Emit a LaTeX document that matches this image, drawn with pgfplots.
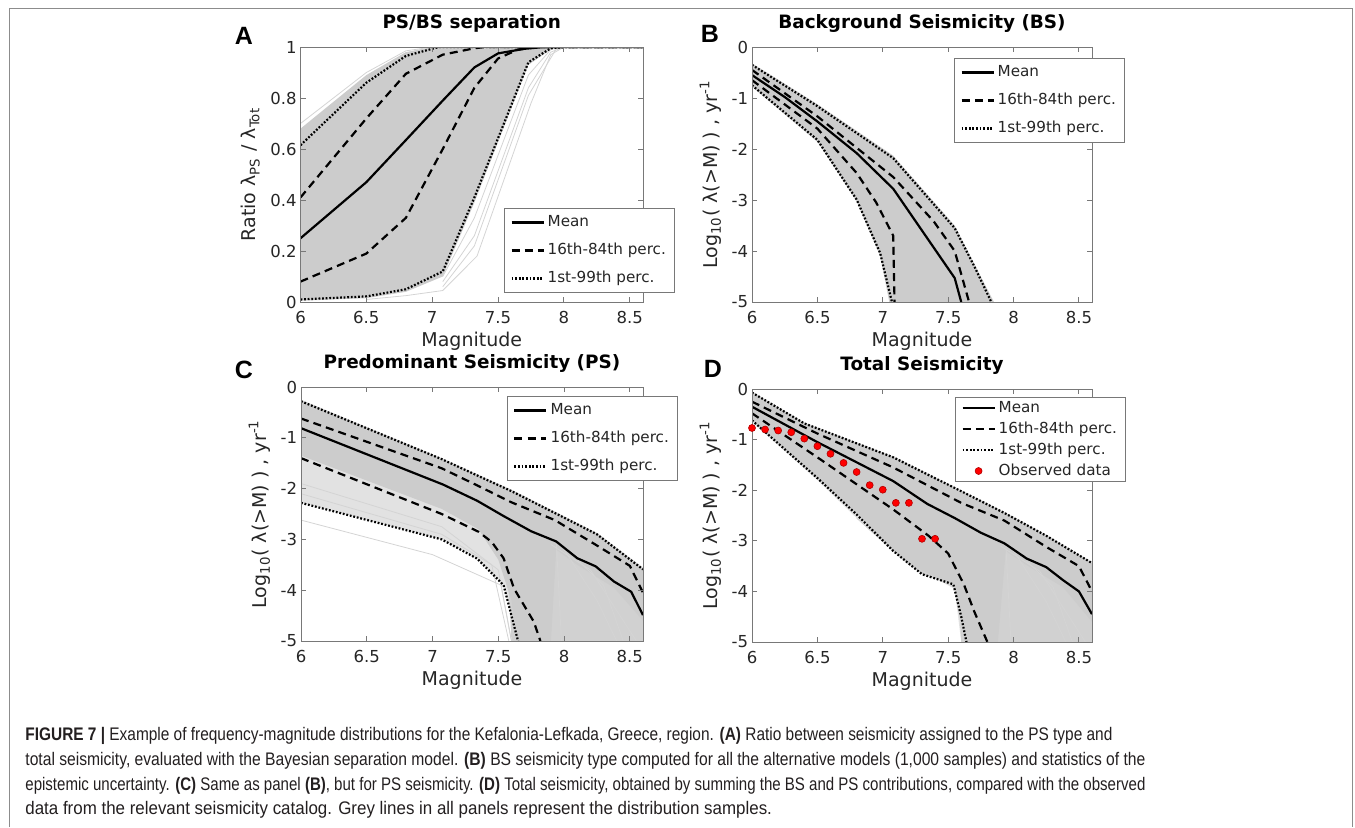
\documentclass[border=0pt]{standalone}
\usepackage{fontspec}
\usepackage{graphicx}
\setmainfont{DejaVu Sans}
\newfontfamily\capfont{Liberation Sans}[FakeStretch=0.93]
\newfontfamily\letterfont{Liberation Sans}
\usepackage{pgfplots}
\pgfplotsset{compat=1.18}

\definecolor{axcol}{RGB}{120,120,120}
\definecolor{txtcol}{RGB}{38,38,38}
\definecolor{densecol}{RGB}{204,204,204}
\definecolor{medcol}{RGB}{209,209,209}
\definecolor{lightcol}{RGB}{226,226,226}
\definecolor{sampcol}{RGB}{212,212,212}
\definecolor{framecol}{RGB}{140,140,140}
\definecolor{capcol}{RGB}{35,31,32}

\pgfplotsset{
  panel/.style={
    scale only axis, anchor=south west,
    xmin=6, xmax=8.6, xtick={6,6.5,7,7.5,8,8.5},
    axis on top,
    tick align=inside, major tick length=2.5pt,
    axis line style={draw=axcol, line width=0.5pt},
    every tick/.style={draw=axcol, line width=0.5pt},
    tick label style={font=\fontsize{8.25}{9}\selectfont, text=txtcol},
    /pgf/number format/assume math mode=true,
    xticklabel style={anchor=base, yshift=-10.5pt},
    yticklabel style={inner xsep=1.75pt},
    xlabel={Magnitude},
    xlabel style={font=\fontsize{9.5}{11}\selectfont, text=txtcol,
      at={(0.5,0)}, anchor=base, yshift=-22.25pt},
    ylabel style={font=\fontsize{9.5}{11}\selectfont, text=txtcol},
    title style={font=\bfseries\fontsize{9.2}{11}\selectfont,
      at={(0.5,1)}, anchor=base, yshift=3.5pt},
    legend cell align=left,
    legend image code/.code={\draw[##1] (0pt,0pt) -- (16pt,0pt);},
    legend style={draw=axcol, line width=0.5pt, fill=white,
      font=\fontsize{7.6}{9}\selectfont, text=txtcol,
      inner xsep=3pt, inner ysep=3.1pt, row sep=6.2pt, column sep=0pt,
      nodes={inner xsep=1.5pt, inner ysep=0pt, text height=6pt, text depth=1.8pt},
      anchor=north west},
  },
  meanl/.style={black, line width=1.1pt},
  dashl/.style={black, line width=1.1pt, dash pattern=on 4pt off 2.6pt},
  dotl/.style={black, line width=1.1pt, dash pattern=on 0.9pt off 0.9pt},
  samp/.style={draw=sampcol, line width=0.4pt, forget plot},
  dfill/.style={fill=densecol, draw=none, forget plot},
  mfill/.style={fill=medcol, draw=none, forget plot},
  lfill/.style={fill=lightcol, draw=none, forget plot},
  obsleg/.style={legend image code/.code={%
    \fill[red, draw=red!70!black, line width=0.3pt] (8pt,0pt) circle (1.75pt);}},
}

\begin{document}
\begin{tikzpicture}
\path[use as bounding box] (0,0) rectangle (677.5pt,-413.5pt);
\draw[framecol, line width=0.5pt] (4.5pt,-413.5pt) -- (4.5pt,-4pt) -- (676pt,-4pt) -- (676pt,-413.5pt);

% ---------------- A: PS/BS separation
\begin{axis}[panel, at={(150.25pt,-151pt)}, width=171.25pt, height=127.5pt,
  ymin=0, ymax=1, ytick={0,0.2,0.4,0.6,0.8,1},
  title={PS/BS separation},
  ylabel={Ratio λ\textsubscript{PS} / λ\textsubscript{Tot}},
  legend style={at={(0.594,0.369)}}]
\addplot[dfill] coordinates {(6,0.68) (6.5,0.89) (6.8,0.98) (7.0,1) (8.05,1)
  (7.9,0.99) (7.73,0.93) (7.32,0.39) (7.08,0.1) (6.8,0.04) (6.5,0.015) (6,0.005)} -- cycle;
\addplot[samp] coordinates {(6.5,0.01) (6.8,0.025) (7.08,0.045) (7.34,0.18) (7.75,0.78) (7.9,0.97) (8.0,1)};
\addplot[samp] coordinates {(7.08,0.08) (7.32,0.26) (7.73,0.84) (7.9,0.98) (8.0,1)};
\addplot[samp] coordinates {(7.08,0.1) (7.32,0.33) (7.73,0.89) (7.9,0.99)};
\addplot[samp] coordinates {(7.08,0.06) (7.32,0.22) (7.73,0.81) (7.95,1)};
\addplot[samp] coordinates {(6,0.7) (6.5,0.9) (6.8,0.985) (7.0,1)};
\addplot[meanl] coordinates {(6,0.25) (6.5,0.47) (6.8,0.635) (7.08,0.79) (7.32,0.92) (7.5,0.975) (7.7,0.993) (7.85,1) (8.6,1)};
\addlegendentry{Mean}
\addplot[dashl] coordinates {(6,0.08) (6.5,0.19) (6.8,0.33) (7.08,0.6) (7.32,0.84) (7.5,0.955) (7.65,0.99) (7.8,1) (8.6,1)};
\addlegendentry{16th-84th perc.}
\addplot[dotl] coordinates {(6,0.01) (6.5,0.022) (6.8,0.05) (7.08,0.12) (7.32,0.41) (7.73,0.94) (7.9,0.995) (8.0,1) (8.6,1)};
\addlegendentry{1st-99th perc.}
\addplot[dashl, forget plot] coordinates {(6,0.41) (6.5,0.72) (6.8,0.895) (7.08,0.97) (7.32,0.995) (7.4,1) (8.6,1)};
\addplot[dotl, forget plot] coordinates {(6,0.615) (6.5,0.86) (6.8,0.965) (7.05,1) (8.6,1)};
\end{axis}

% ---------------- B: Background Seismicity
\begin{axis}[panel, at={(376pt,-151pt)}, width=170pt, height=127.5pt,
  ymin=-5, ymax=0, ytick={-5,-4,-3,-2,-1,0},
  title={Background Seismicity (BS)},
  ylabel={Log\textsubscript{10}( λ(>M) ) , yr\textsuperscript{-1}},
  legend style={at={(0.594,0.957)}}]
\addplot[dfill] coordinates {(6,-0.32) (6.5,-1.12) (7.08,-2.13) (7.55,-3.5) (7.7,-4.25) (7.85,-5)
  (7.05,-5) (6.98,-4.1) (6.8,-3.02) (6.5,-1.86) (6,-0.78)} -- cycle;
\addplot[meanl] coordinates {(6,-0.55) (6.25,-0.98) (6.5,-1.46) (6.8,-2.08) (7.08,-2.78) (7.55,-4.53) (7.6,-5)};
\addlegendentry{Mean}
\addplot[dashl] coordinates {(6,-0.65) (6.5,-1.6) (6.8,-2.47) (6.95,-3.05) (7.05,-3.55) (7.08,-3.7) (7.09,-5)};
\addlegendentry{16th-84th perc.}
\addplot[dotl] coordinates {(6,-0.75) (6.5,-1.82) (6.8,-2.99) (6.98,-4.04) (7.07,-5)};
\addlegendentry{1st-99th perc.}
\addplot[dashl, forget plot] coordinates {(6,-0.45) (6.5,-1.36) (7.08,-2.55) (7.39,-3.42) (7.55,-4.0) (7.66,-5)};
\addplot[dotl, forget plot] coordinates {(6,-0.35) (6.5,-1.16) (7.08,-2.18) (7.55,-3.55) (7.7,-4.3) (7.83,-5)};
\end{axis}

% ---------------- C: Predominant Seismicity
\begin{axis}[panel, at={(150.5pt,-320.5pt)}, width=171pt, height=127pt,
  ymin=-5, ymax=0, ytick={-5,-4,-3,-2,-1,0},
  title={Predominant Seismicity (PS)},
  ylabel={Log\textsubscript{10}( λ(>M) ) , yr\textsuperscript{-1}},
  legend style={at={(0.602,0.965)}}]
\addplot[lfill] coordinates {(6,-0.25) (7.07,-1.4) (7.6,-2.02) (7.93,-2.45) (8.25,-2.87) (8.6,-3.55)
  (8.6,-5) (7.65,-5) (7.6,-4.5) (7.54,-3.9) (7.34,-3.38) (7.07,-3.0) (6,-2.28)} -- cycle;
\addplot[mfill] coordinates {(7.55,-2.55) (7.75,-2.84) (7.94,-3.04) (8.1,-3.37) (8.24,-3.53) (8.38,-3.83)
  (8.51,-4.03) (8.6,-4.49) (8.6,-5) (7.6,-5)} -- cycle;
\addplot[dfill] coordinates {(6,-0.26) (7.07,-1.41) (7.6,-2.03) (7.93,-2.46) (8.25,-2.88) (8.6,-3.57)
  (8.6,-4.6) (8.38,-3.95) (8.1,-3.5) (7.94,-3.2) (7.9,-5) (7.64,-5)
  (7.6,-4.2) (7.5,-3.4) (7.35,-2.8) (7.07,-2.4) (6,-1.35)} -- cycle;
\addplot[samp] coordinates {(6,-2.62) (7.0,-3.3) (7.52,-3.9) (7.6,-5)};
\addplot[samp] coordinates {(6,-1.9) (7.07,-2.75) (7.5,-3.6) (7.6,-5)};
\addplot[samp] coordinates {(6,-2.1) (7.07,-2.9) (7.45,-3.5) (7.58,-5)};
\addplot[samp] coordinates {(7.94,-3.0) (7.98,-5)};
\addplot[samp] coordinates {(8.0,-3.2) (8.25,-4.2) (8.4,-5)};
\addplot[samp] coordinates {(8.1,-3.4) (8.3,-3.9) (8.45,-5)};
\addplot[samp] coordinates {(7.9,-3.1) (8.2,-3.6) (8.4,-4.4) (8.55,-5)};
\addplot[meanl] coordinates {(6,-0.81) (7.08,-1.92) (7.34,-2.24) (7.54,-2.54) (7.75,-2.84) (7.94,-3.04) (8.1,-3.37) (8.24,-3.53) (8.38,-3.83) (8.51,-4.03) (8.6,-4.49)};
\addlegendentry{Mean}
\addplot[dashl] coordinates {(6,-1.4) (7.07,-2.5) (7.35,-2.85) (7.45,-3.05) (7.54,-3.37) (7.62,-3.97) (7.77,-4.62) (7.82,-5)};
\addlegendentry{16th-84th perc.}
\addplot[dotl] coordinates {(6,-2.28) (7.07,-3.0) (7.34,-3.38) (7.54,-3.9) (7.6,-4.5) (7.65,-5)};
\addlegendentry{1st-99th perc.}
\addplot[dashl, forget plot] coordinates {(6,-0.62) (7.07,-1.6) (7.35,-1.95) (7.6,-2.27) (7.93,-2.62) (8.25,-3.12) (8.5,-3.52) (8.6,-4.05)};
\addplot[dotl, forget plot] coordinates {(6,-0.28) (7.07,-1.42) (7.6,-2.05) (7.93,-2.48) (8.25,-2.9) (8.6,-3.59)};
\end{axis}

% ---------------- D: Total Seismicity
\begin{axis}[panel, at={(376pt,-321pt)}, width=170pt, height=126.5pt,
  ymin=-5, ymax=0, ytick={-5,-4,-3,-2,-1,0},
  title={Total Seismicity},
  ylabel={Log\textsubscript{10}( λ(>M) ) , yr\textsuperscript{-1}},
  legend style={at={(0.597,0.9685)}, inner ysep=1.35pt, row sep=2.7pt}]
\addplot[lfill] coordinates {(6,-0.05) (6.4,-0.66) (7.08,-1.33) (7.6,-2.0) (7.93,-2.43) (8.25,-2.88) (8.6,-3.42)
  (8.6,-5) (7.6,-5) (7.55,-3.95) (7.2,-3.47) (6.9,-2.8) (6.5,-1.8) (6,-0.65)} -- cycle;
\addplot[mfill] coordinates {(7.55,-2.55) (7.75,-2.84) (7.93,-3.05) (8.1,-3.35) (8.25,-3.52) (8.38,-3.78)
  (8.5,-4.0) (8.6,-4.45) (8.6,-5) (7.6,-5)} -- cycle;
\addplot[dfill] coordinates {(6,-0.06) (6.4,-0.67) (7.08,-1.34) (7.6,-2.01) (7.93,-2.44) (8.25,-2.89) (8.6,-3.44)
  (8.6,-4.6) (8.38,-3.92) (8.1,-3.48) (7.94,-3.2) (7.88,-5) (7.64,-5) (7.6,-4.5)
  (7.54,-3.86) (7.3,-3.66) (7.08,-3.2) (6.8,-2.48) (6.5,-1.76) (6,-0.62)} -- cycle;
\addplot[samp] coordinates {(6.8,-2.55) (7.2,-3.47) (7.55,-3.92) (7.62,-5)};
\addplot[samp] coordinates {(7.94,-3.02) (7.98,-5)};
\addplot[samp] coordinates {(8.0,-3.2) (8.25,-4.2) (8.4,-5)};
\addplot[samp] coordinates {(8.1,-3.4) (8.3,-3.9) (8.45,-5)};
\addplot[samp] coordinates {(7.9,-3.1) (8.2,-3.6) (8.4,-4.4) (8.55,-5)};
\addplot[meanl] coordinates {(6,-0.35) (6.5,-1.05) (7.08,-1.82) (7.34,-2.27) (7.55,-2.55) (7.75,-2.84) (7.93,-3.05) (8.1,-3.35) (8.25,-3.52) (8.38,-3.78) (8.5,-4.0) (8.6,-4.45)};
\addlegendentry{Mean}
\addplot[dashl] coordinates {(6,-0.48) (6.5,-1.35) (7.08,-2.38) (7.35,-2.9) (7.5,-3.25) (7.62,-3.86) (7.7,-4.4) (7.8,-5)};
\addlegendentry{16th-84th perc.}
\addplot[dotl] coordinates {(6,-0.62) (6.5,-1.76) (6.8,-2.48) (7.08,-3.2) (7.3,-3.66) (7.54,-3.86) (7.6,-4.5) (7.64,-5)};
\addlegendentry{1st-99th perc.}
\addplot[dashl, forget plot] coordinates {(6,-0.25) (6.5,-0.88) (7.08,-1.55) (7.6,-2.25) (7.93,-2.6) (8.25,-3.12) (8.5,-3.5) (8.6,-4.0)};
\addplot[dotl, forget plot] coordinates {(6,-0.07) (6.4,-0.68) (7.08,-1.35) (7.6,-2.02) (7.93,-2.45) (8.25,-2.9) (8.6,-3.44)};
\addplot[only marks, mark=*, mark size=1.75pt, obsleg,
  mark options={fill=red, draw=red!70!black, line width=0.3pt}]
  coordinates {(6.0,-0.77) (6.1,-0.80) (6.2,-0.82) (6.3,-0.855) (6.4,-0.98) (6.5,-1.13) (6.6,-1.28)
  (6.7,-1.46) (6.8,-1.64) (6.9,-1.90) (7.0,-1.99) (7.1,-2.25) (7.2,-2.25) (7.3,-2.96) (7.4,-2.96)};
\addlegendentry{Observed data}
\end{axis}

% panel letters
\node[font=\letterfont\bfseries\fontsize{12.5}{14}\selectfont] at (122pt,-18pt) {A};
\node[font=\letterfont\bfseries\fontsize{12.5}{14}\selectfont] at (355pt,-17pt) {B};
\node[font=\letterfont\bfseries\fontsize{12.5}{14}\selectfont] at (122pt,-185pt) {C};
\node[font=\letterfont\bfseries\fontsize{12.5}{14}\selectfont] at (356.5pt,-184.5pt) {D};

% caption
\begin{scope}[every node/.style={anchor=base west, inner sep=0pt, text=capcol,
    font=\capfont\fontsize{9.1}{11}\selectfont}]
\node at (12.5pt,-370pt) {\resizebox{543.5pt}{\height}{\textbf{FIGURE 7 |} Example of frequency-magnitude distributions for the Kefalonia-Lefkada, Greece, region. \textbf{(A)} Ratio between seismicity assigned to the PS type and}};
\node at (12.5pt,-382.5pt) {\resizebox{560pt}{\height}{total seismicity, evaluated with the Bayesian separation model. \textbf{(B)} BS seismicity type computed for all the alternative models (1,000 samples) and statistics of the}};
\node at (12.5pt,-395pt) {\resizebox{560pt}{\height}{epistemic uncertainty. \textbf{(C)} Same as panel \textbf{(B)}, but for PS seismicity. \textbf{(D)} Total seismicity, obtained by summing the BS and PS contributions, compared with the observed}};
\node at (12.5pt,-407pt) {data from the relevant seismicity catalog. Grey lines in all panels represent the distribution samples.};
\end{scope}
\end{tikzpicture}
\end{document}
